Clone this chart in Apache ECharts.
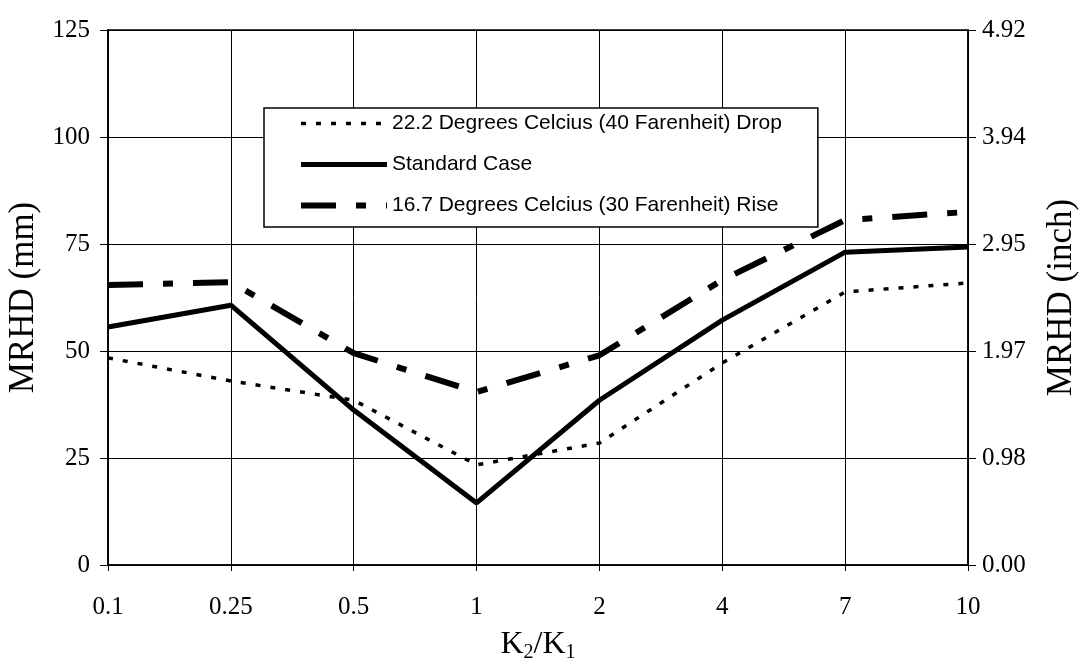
<!DOCTYPE html>
<html><head><meta charset="utf-8">
<script src="https://cdn.jsdelivr.net/npm/echarts@6/dist/echarts.min.js"></script>
<style>html,body{margin:0;padding:0;background:#fff}#c{width:1082px;height:665px}</style>
</head><body><div id="c"></div>
<script>
const categories = ['0.1','0.25','0.5','1','2','4','7','10'];
const dropSeries = [48.4, 43.0, 38.5, 23.4, 28.5, 47.2, 63.8, 65.9];
const standardSeries = [55.6, 60.7, 36.2, 14.5, 38.5, 57.2, 73.1, 74.3];
const riseSeries = [65.4, 66.1, 49.5, 40.4, 49.0, 66.6, 80.6, 82.5];
const seriesNames = ['22.2 Degrees Celcius (40 Farenheit) Drop','Standard Case','16.7 Degrees Celcius (30 Farenheit) Rise'];

const serif = '"Liberation Serif","DejaVu Serif",serif';
const chart = echarts.init(document.getElementById('c'));
const dropStyle = {color: '#000', width: 3.5, type: [5, 10]};
const stdStyle = {color: '#000', width: 5};
const riseStyle = {color: '#000', width: 6, type: [35, 20, 10, 20]};
const yCommon = {
  min: 0, max: 125, interval: 25,
  axisLine: {show: true, lineStyle: {color: '#000', width: 1.5}},
  axisTick: {show: true, length: 8, lineStyle: {color: '#000'}},
  axisLabel: {color: '#000', fontFamily: serif, fontSize: 25, margin: 18},
  nameTextStyle: {color: '#000', fontFamily: serif, fontSize: 35},
  nameLocation: 'middle', nameRotate: 90
};
chart.setOption({
  animation: false,
  backgroundColor: '#fff',
  grid: {left: 108, right: 114, top: 30, bottom: 100, show: true, borderColor: '#000', borderWidth: 1.5,
         containLabel: false, outerBoundsMode: 'none'},
  legend: {
    left: 264, top: 108, orient: 'vertical',
    backgroundColor: '#fff', borderColor: '#000', borderWidth: 1.5,
    padding: [5, 36, 11, 34], itemGap: 20, itemWidth: 86, itemHeight: 14,
    itemStyle: {opacity: 0},
    textStyle: {color: '#000', fontFamily: '"Liberation Sans",Arial,sans-serif', fontSize: 21},
    data: [
      {name: seriesNames[0], lineStyle: dropStyle},
      {name: seriesNames[1], lineStyle: stdStyle},
      {name: seriesNames[2], lineStyle: riseStyle}
    ]
  },
  xAxis: {
    type: 'category', data: categories, boundaryGap: false,
    axisLine: {lineStyle: {color: '#000', width: 1.5}},
    axisTick: {show: true, alignWithLabel: true, length: 6, lineStyle: {color: '#000'}},
    splitLine: {show: true, lineStyle: {color: '#000', width: 1}},
    axisLabel: {color: '#000', fontFamily: serif, fontSize: 25, margin: 30},
    name: 'K{sub|2}/K{sub|1}', nameLocation: 'middle', nameGap: 62,
    nameTextStyle: {color: '#000', fontFamily: serif, fontSize: 32,
      rich: {sub: {fontFamily: serif, fontSize: 20, verticalAlign: 'bottom', padding: [16, 0, 0, 0]}}}
  },
  yAxis: [
    Object.assign({}, yCommon, {
      position: 'left', name: 'MRHD (mm)', nameGap: 62,
      splitLine: {show: true, lineStyle: {color: '#000', width: 1}}
    }),
    Object.assign({}, yCommon, {
      position: 'right', name: 'MRHD (inch)', nameGap: 76,
      splitLine: {show: false},
      axisLabel: Object.assign({}, yCommon.axisLabel, {margin: 14, formatter: v => (v / 25.4).toFixed(2)})
    })
  ],
  series: [
    {name: seriesNames[0], type: 'line', data: dropSeries, showSymbol: false, symbol: 'none',
     itemStyle: {color: '#000'}, lineStyle: dropStyle, z: 3},
    {name: seriesNames[1], type: 'line', data: standardSeries, showSymbol: false, symbol: 'none',
     itemStyle: {color: '#000'}, lineStyle: stdStyle, z: 4},
    {name: seriesNames[2], type: 'line', data: riseSeries, showSymbol: false, symbol: 'none',
     itemStyle: {color: '#000'}, lineStyle: riseStyle, z: 3}
  ]
});
</script></body></html>
